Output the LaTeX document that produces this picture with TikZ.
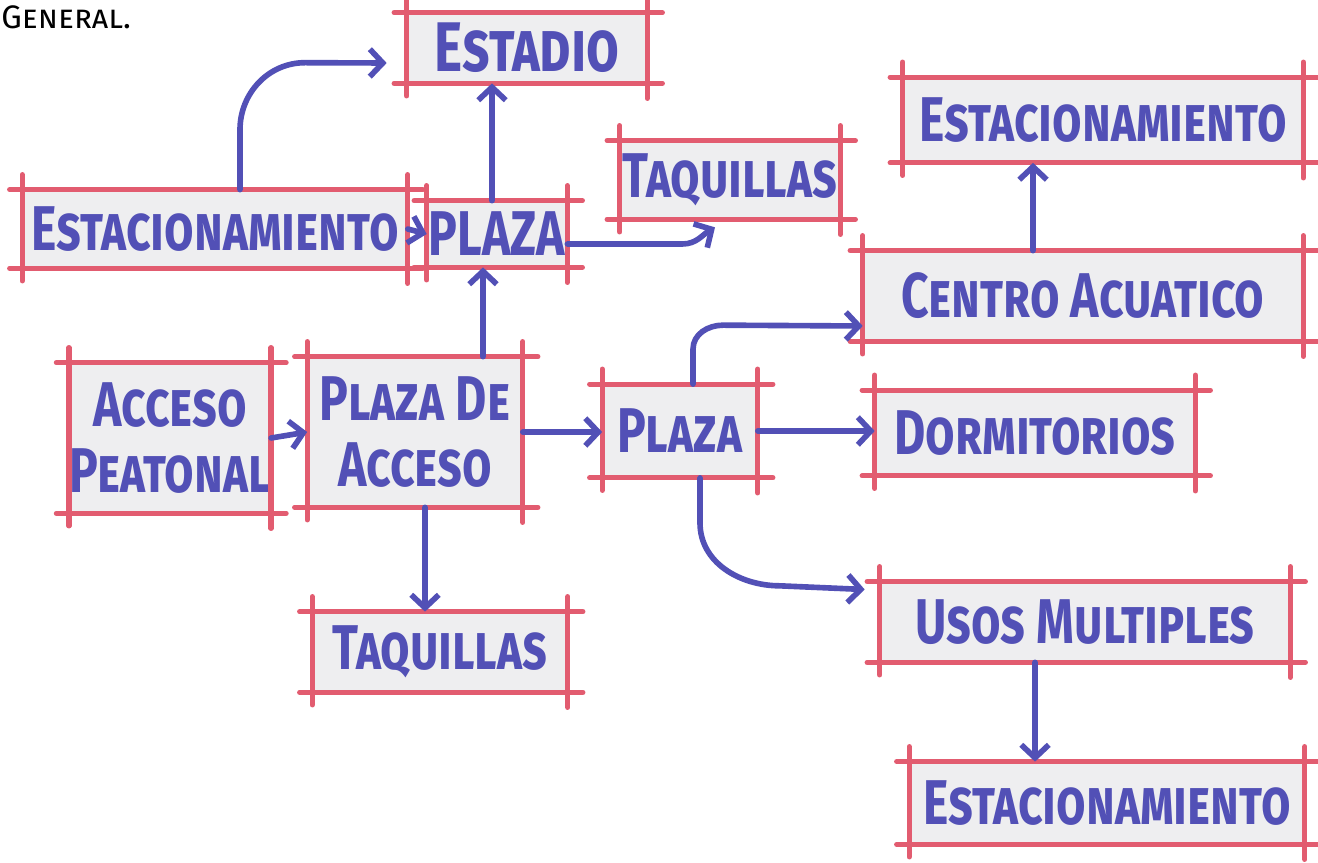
\documentclass[tikz,border=0pt]{standalone}
\usepackage{fontspec}
\setmainfont{Fira Sans}
\usepackage{graphicx}
\usetikzlibrary{arrows.meta,positioning}
\definecolor{rojo}{RGB}{226,92,112}
\definecolor{azul}{RGB}{82,80,182}
\definecolor{papel}{RGB}{238,238,240}
\newcommand\trazo[1]{\scalebox{0.76}[1]{\scshape #1}}
\tikzset{
  caja/.style={fill=papel,inner sep=0pt,font=\fontsize{36}{38}\selectfont\bfseries,text=azul,align=center},
  borde/.style={draw=rojo,line width=3pt,line cap=round},
  flecha/.style={-{Straight Barb[length=2.6mm,width=5.5mm]},draw=azul,line width=3.2pt,line cap=round},
}
% marco a mano: lados que se pasan de las esquinas
\newcommand\marco[1]{%
  \draw[borde] ([xshift=-2.5mm]#1.north west) -- ([xshift=3mm]#1.north east);
  \draw[borde] ([xshift=-2.5mm]#1.south west) -- ([xshift=3mm]#1.south east);
  \draw[borde] ([yshift=3mm]#1.north west) -- ([yshift=-2.5mm]#1.south west);
  \draw[borde] ([yshift=3mm]#1.north east) -- ([yshift=-3mm]#1.south east);
}

\begin{document}
\begin{tikzpicture}[x=0.02cm,y=0.02cm]
  \useasboundingbox (0,0) rectangle (1318,-862);

  \node[anchor=north west,inner sep=0pt,font=\fontsize{18.5}{20}\selectfont\scshape] (titulo) at (1,-5) {General.};

  % ---------- columna izquierda ----------
  \node[caja,minimum width=7.7cm,minimum height=1.56cm] (estacIzq) at (215,-229) {\trazo{Estacionamiento}};
  \node[caja,minimum width=4cm,minimum height=3cm] (acceso) at (170,-438) {\trazo{Acceso}\\\trazo{Peatonal}};

  % ---------- centro ----------
  \node[caja,minimum width=4.8cm,minimum height=1.4cm] (estadio) at (527,-48) {\trazo{\fontsize{40}{40}\selectfont Estadio}};
  \node[caja,minimum width=2.8cm,minimum height=1.32cm] (plazaSup) at (497,-234) {\trazo{PLAZA}};
  \node[caja,minimum width=4.4cm,minimum height=1.56cm] (taqSup) at (730,-180) {\trazo{Taquillas}};
  \node[caja,minimum width=4.3cm,minimum height=3cm] (plazaAcc) at (415,-432) {\trazo{Plaza De}\\\trazo{Acceso}};
  \node[caja,minimum width=5.1cm,minimum height=1.6cm] (taqInf) at (440,-652) {\trazo{Taquillas}};
  \node[caja,minimum width=3.1cm,minimum height=1.86cm] (plazaMed) at (680,-431) {\trazo{Plaza}};

  % ---------- columna derecha ----------
  \node[caja,minimum width=8cm,minimum height=1.7cm] (estacDer) at (1103,-120) {\trazo{Estacionamiento}};
  \node[caja,minimum width=8.8cm,minimum height=1.8cm] (centro) at (1083,-296) {\trazo{Centro Acuatico}};
  \node[caja,minimum width=6.4cm,minimum height=1.7cm] (dorm) at (1035,-433) {\trazo{Dormitorios}};
  \node[caja,minimum width=8.2cm,minimum height=1.6cm] (usos) at (1085,-622) {\trazo{Usos Multiples}};
  \node[caja,minimum width=7.9cm,minimum height=1.64cm] (estacInf) at (1107,-803) {\trazo{Estacionamiento}};

  \foreach \n in {estacIzq,acceso,estadio,plazaSup,taqSup,plazaAcc,taqInf,plazaMed,estacDer,centro,dorm,usos,estacInf}
    \marco{\n};

  % ---------- flechas ----------
  \draw[flecha] ([xshift=0.5cm]estacIzq.north) -- ++(0,1.2cm) to[out=90,in=180] ++(1.3cm,1.34cm)
                -- ([xshift=-0.4cm,yshift=-0.3cm]estadio.west);
  \draw[flecha] (estacIzq.east) -- (plazaSup.west);
  \draw[flecha] ([xshift=-0.1cm]plazaSup.north) -- ([xshift=-0.1cm]plazaSup.north |- estadio.south);
  \draw[flecha] ([yshift=-0.2cm]plazaSup.east) -- ++(2.3cm,0) to[out=0,in=210]
                ([xshift=-0.3cm,yshift=-0.16cm]taqSup.south);
  \draw[flecha] ([xshift=1.36cm]plazaAcc.north) -- ([xshift=1.36cm]plazaAcc.north |- plazaSup.south);
  \draw[flecha] (acceso.east) -- (plazaAcc.west);
  \draw[flecha] (plazaAcc.east) -- (plazaAcc.east -| plazaMed.west);
  \draw[flecha] ([xshift=0.2cm]plazaAcc.south) -- ([xshift=0.2cm]plazaAcc.south |- taqInf.north);
  \draw[flecha] ([xshift=0.26cm]plazaMed.north) -- ++(0,0.7cm) to[out=90,in=180] ++(0.6cm,0.48cm)
                -- ([yshift=-0.6cm]centro.west);
  \draw[flecha] (plazaMed.east) -- (plazaMed.east -| dorm.west);
  \draw[flecha] ([xshift=0.4cm]plazaMed.south) -- ++(0,-0.9cm) to[out=-90,in=180] ++(1.6cm,-1.26cm)
                -- ([xshift=-0.3cm,yshift=0.65cm]usos.west);
  \draw[flecha] ([xshift=-1cm]centro.north) -- ([xshift=-1cm]centro.north |- estacDer.south);
  \draw[flecha] ([xshift=-1cm]usos.south) -- ([xshift=-1cm]usos.south |- estacInf.north);

\end{tikzpicture}
\end{document}
